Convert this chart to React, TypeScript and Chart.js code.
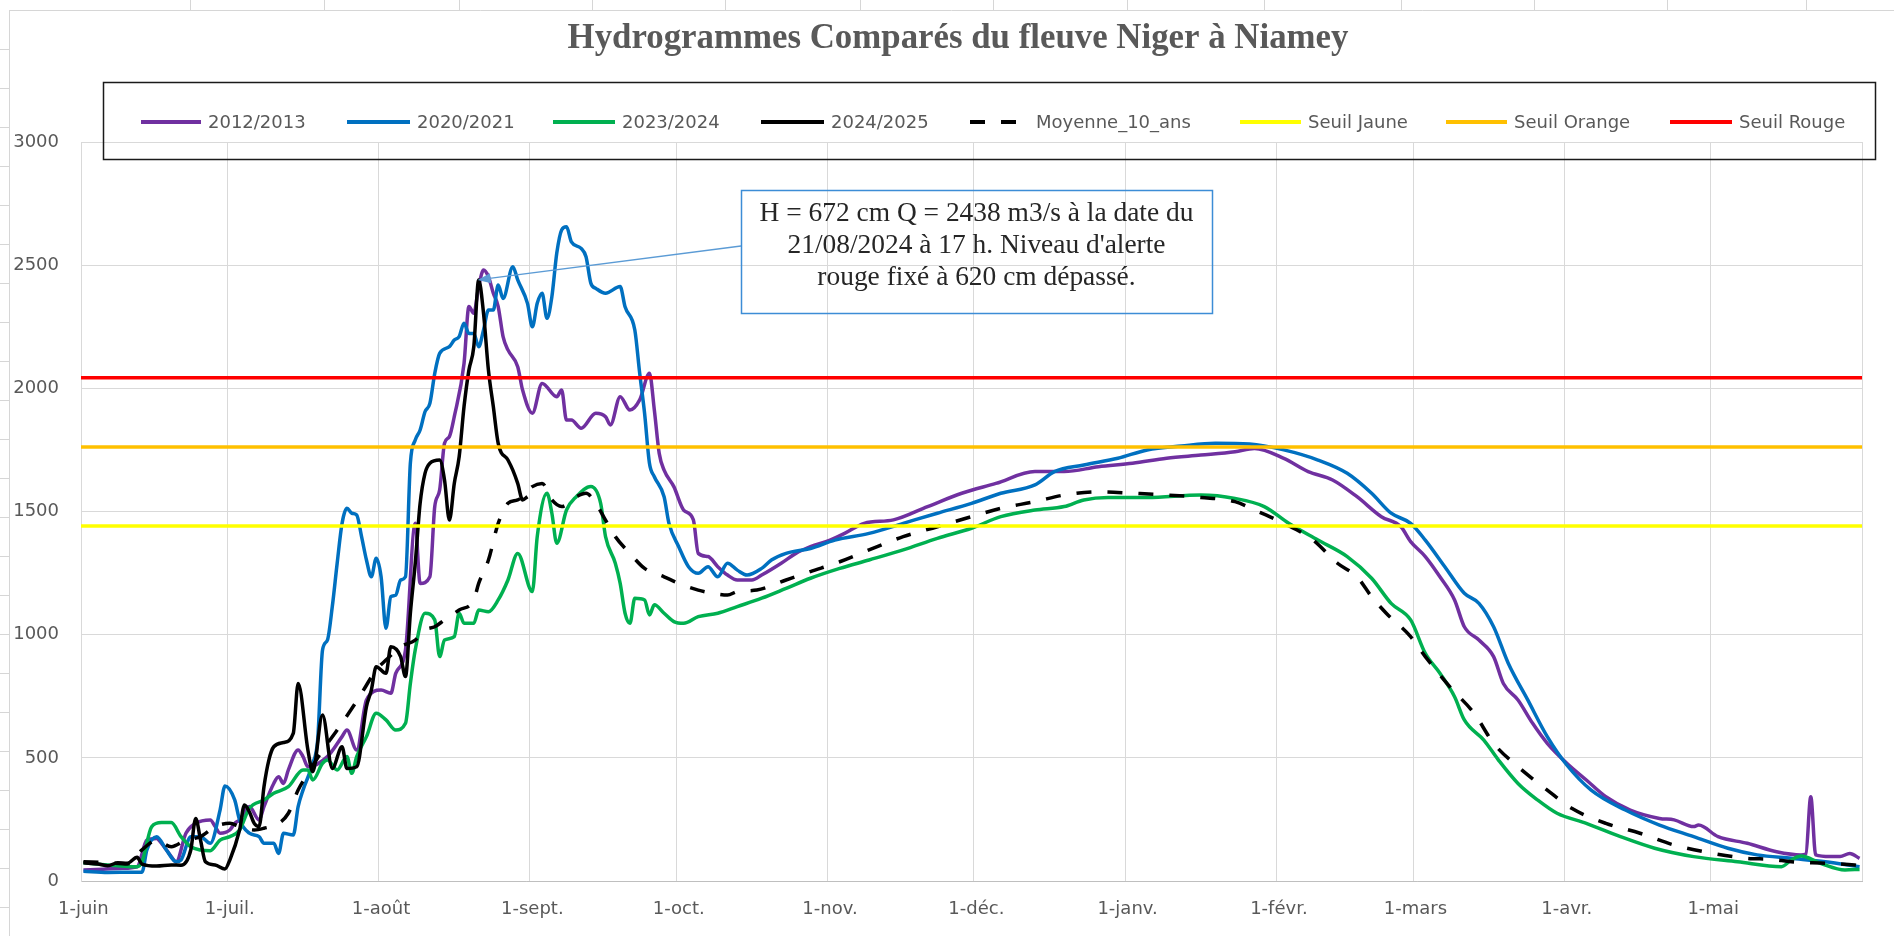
import React, { useEffect, useRef } from 'react';
import { Chart, registerables } from 'chart.js';

Chart.register(...registerables);

// ---- Axis categories (day index from 1 June) ----
const monthStarts = [0, 30, 61, 92, 122, 153, 183, 214, 245, 273, 304, 334];
const monthLabels = ['1-juin', '1-juil.', '1-août', '1-sept.', '1-oct.', '1-nov.', '1-déc.', '1-janv.', '1-févr.', '1-mars', '1-avr.', '1-mai'];
const yTickStep = 500;
const yMax = 3000;

// ---- Series: [day index, discharge m3/s] ----
const series2012: [number, number][] = [
  [0, 45], [4, 48], [8, 52], [11, 58], [13, 166], [15, 173], [16, 153], [18, 99], [19, 78], [21, 194], [23, 234], [26, 248], [27, 221], [28, 194], [30, 207], [31, 234], [32, 248], [34, 302], [36, 248], [37, 302], [39, 396], [40, 423], [41, 396], [42, 451], [44, 532], [45, 505], [46, 464], [50, 505], [53, 586], [54, 613], [56, 532], [58, 735], [61, 775], [63, 762], [64, 843], [66, 938], [68, 1452], [69, 1208], [71, 1235], [72, 1520], [73, 1587], [74, 1777], [75, 1804], [76, 1885], [78, 2101], [79, 2332], [80, 2305], [81, 2413], [82, 2480], [83, 2453], [84, 2386], [85, 2332], [86, 2210], [87, 2156], [89, 2088], [90, 1993], [92, 1899], [94, 2020], [97, 1966], [98, 1993], [99, 1871], [100, 1871], [102, 1838], [105, 1899], [107, 1885], [108, 1851], [110, 1966], [112, 1912], [114, 1953], [116, 2061], [117, 1912], [118, 1736], [119, 1668], [121, 1601], [123, 1506], [125, 1466], [126, 1330], [128, 1317], [130, 1276], [132, 1242], [134, 1222], [137, 1222], [139, 1242], [143, 1290], [146, 1330], [149, 1357], [153, 1384], [156, 1411], [160, 1452], [166, 1466], [173, 1520], [180, 1574], [187, 1614], [195, 1662], [201, 1662], [208, 1682], [215, 1696], [222, 1716], [229, 1729], [236, 1743], [240, 1756], [246, 1716], [251, 1662], [256, 1628], [261, 1560], [266, 1479], [270, 1438], [272, 1378], [275, 1317], [278, 1235], [281, 1141], [283, 1032], [286, 978], [289, 911], [291, 802], [294, 735], [297, 640], [300, 559], [304, 478], [308, 410], [312, 342], [317, 288], [323, 254], [326, 248], [330, 221], [331, 227], [335, 180], [341, 153], [347, 119], [352, 106], [353, 110], [354, 342], [355, 106], [358, 99], [360, 99], [362, 112], [364, 92],
];

const series2020: [number, number][] = [
  [0, 40], [5, 35], [10, 36], [12, 36], [13, 126], [15, 180], [17, 126], [19, 78], [20, 85], [22, 180], [24, 180], [26, 153], [28, 288], [29, 386], [31, 329], [32, 248], [34, 194], [36, 180], [37, 153], [39, 153], [40, 112], [41, 194], [43, 187], [44, 302], [45, 369], [47, 478], [48, 572], [49, 938], [50, 978], [51, 1114], [52, 1290], [53, 1452], [54, 1513], [55, 1493], [56, 1486], [57, 1398], [58, 1303], [59, 1235], [60, 1310], [61, 1235], [62, 1026], [63, 1154], [64, 1160], [65, 1222], [66, 1235], [67, 1696], [68, 1790], [69, 1831], [70, 1905], [71, 1939], [72, 2061], [73, 2142], [75, 2169], [76, 2196], [77, 2210], [78, 2264], [79, 2223], [80, 2223], [81, 2169], [82, 2237], [83, 2318], [84, 2318], [85, 2419], [86, 2365], [88, 2494], [89, 2440], [91, 2345], [92, 2250], [93, 2345], [94, 2386], [95, 2284], [96, 2372], [97, 2548], [98, 2643], [99, 2656], [100, 2595], [102, 2568], [103, 2534], [104, 2426], [105, 2406], [107, 2386], [110, 2413], [111, 2331], [113, 2237], [114, 2061], [115, 1899], [116, 1696], [117, 1641], [119, 1560], [120, 1452], [122, 1357], [124, 1276], [126, 1249], [128, 1276], [130, 1235], [132, 1290], [134, 1262], [136, 1242], [139, 1269], [141, 1303], [144, 1330], [149, 1350], [154, 1384], [161, 1411], [168, 1452], [175, 1493], [182, 1533], [188, 1574], [195, 1608], [199, 1662], [205, 1689], [212, 1716], [218, 1750], [225, 1766], [232, 1777], [239, 1774], [246, 1750], [253, 1709], [259, 1655], [264, 1574], [268, 1493], [272, 1452], [275, 1384], [279, 1276], [283, 1168], [286, 1127], [289, 1032], [292, 884], [296, 735], [300, 586], [304, 471], [309, 369], [316, 288], [323, 227], [330, 180], [337, 133], [343, 106], [350, 92], [357, 78], [364, 58],
];

const series2023: [number, number][] = [
  [0, 74], [5, 65], [11, 58], [12, 78], [14, 221], [16, 237], [18, 237], [20, 180], [22, 139], [24, 126], [26, 123], [28, 166], [30, 180], [32, 207], [34, 295], [37, 329], [39, 356], [42, 383], [45, 451], [46, 451], [47, 410], [49, 478], [50, 491], [52, 451], [54, 505], [55, 437], [56, 505], [58, 586], [60, 681], [62, 654], [64, 613], [66, 640], [67, 802], [68, 938], [70, 1087], [72, 1060], [73, 911], [74, 978], [76, 992], [77, 1087], [78, 1046], [80, 1046], [81, 1100], [83, 1093], [85, 1141], [87, 1222], [89, 1330], [92, 1175], [93, 1398], [95, 1574], [96, 1493], [97, 1371], [99, 1506], [101, 1560], [104, 1601], [106, 1533], [107, 1398], [109, 1290], [110, 1208], [111, 1087], [112, 1046], [113, 1148], [115, 1141], [116, 1080], [117, 1121], [119, 1087], [121, 1053], [123, 1046], [126, 1073], [130, 1087], [134, 1114], [139, 1148], [144, 1188], [149, 1229], [155, 1269], [161, 1303], [168, 1344], [175, 1391], [182, 1432], [188, 1479], [195, 1506], [201, 1520], [205, 1547], [210, 1557], [218, 1557], [229, 1567], [236, 1553], [242, 1520], [247, 1452], [253, 1384], [259, 1317], [264, 1229], [268, 1127], [272, 1060], [275, 924], [278, 843], [281, 748], [283, 654], [287, 572], [290, 491], [294, 396], [298, 329], [302, 275], [308, 234], [315, 180], [322, 133], [330, 99], [339, 78], [348, 58], [350, 85], [352, 101], [356, 72], [361, 45], [364, 47],
];

const series2024: [number, number][] = [
  [0, 74], [3, 69], [5, 62], [7, 74], [9, 72], [11, 96], [12, 69], [15, 61], [18, 65], [20, 64], [22, 126], [23, 254], [24, 166], [25, 78], [27, 65], [29, 49], [30, 85], [32, 207], [33, 309], [34, 281], [35, 234], [36, 221], [37, 383], [38, 491], [39, 545], [41, 562], [43, 599], [44, 802], [46, 532], [47, 444], [49, 674], [51, 457], [53, 545], [54, 457], [56, 464], [58, 708], [59, 775], [60, 870], [62, 843], [63, 951], [65, 911], [66, 830], [67, 1087], [68, 1290], [69, 1533], [70, 1655], [71, 1696], [73, 1709], [74, 1628], [75, 1465], [76, 1614], [77, 1722], [78, 1926], [79, 2074], [80, 2169], [81, 2440], [82, 2304], [83, 2074], [84, 1926], [85, 1777], [87, 1709], [88, 1668], [89, 1614], [90, 1547], [91, 1560],
];

const seriesMoyenne: [number, number][] = [
  [0, 78], [5, 74], [9, 69], [12, 126], [15, 166], [18, 139], [21, 166], [24, 180], [27, 221], [30, 234], [32, 221], [35, 207], [37, 214], [40, 234], [42, 275], [44, 369], [46, 437], [49, 530], [52, 613], [55, 700], [57, 762], [60, 857], [62, 897], [65, 951], [68, 978], [70, 1019], [72, 1032], [74, 1060], [77, 1100], [80, 1141], [81, 1208], [83, 1303], [85, 1452], [87, 1533], [89, 1547], [90, 1560], [92, 1601], [94, 1614], [96, 1547], [98, 1520], [101, 1560], [103, 1574], [105, 1533], [107, 1465], [109, 1398], [112, 1330], [115, 1269], [119, 1235], [122, 1208], [126, 1181], [129, 1168], [132, 1161], [134, 1175], [138, 1181], [144, 1222], [149, 1256], [155, 1296], [161, 1344], [168, 1398], [175, 1438], [182, 1479], [188, 1513], [195, 1540], [201, 1567], [208, 1580], [215, 1574], [222, 1567], [229, 1557], [236, 1540], [240, 1506], [246, 1452], [252, 1384], [257, 1290], [261, 1235], [264, 1154], [267, 1087], [272, 992], [275, 911], [280, 789], [285, 681], [289, 559], [294, 464], [300, 369], [305, 295], [312, 234], [319, 194], [326, 146], [334, 112], [341, 92], [346, 88], [350, 78], [357, 72], [363, 65], [364, 61],
];

const seuilJaune = 1441;
const seuilOrange = 1762;
const seuilRouge = 2043;
const yearDays = 365;

// annotation
const annotationLines = [
  'H = 672 cm Q = 2438 m3/s à la date du',
  "21/08/2024 à 17 h. Niveau d'alerte",
  'rouge fixé à 620 cm dépassé.',
];
const annotationDay = 81;
const annotationValue = 2440;
const titleText = 'Hydrogrammes Comparés du fleuve Niger à Niamey';

const SANS = '"DejaVu Sans", sans-serif';
const SERIF = '"Liberation Serif", serif';

const toPoints = (s: [number, number][]) => s.map(([d, v]) => ({ x: d + 0.5, y: v }));
const flat = (v: number) => [{ x: 0, y: v }, { x: yearDays, y: v }];

const decorPlugin = {
  id: 'decor',
  beforeDraw(chart: any) {
    const ctx: CanvasRenderingContext2D = chart.ctx;
    ctx.save();
    ctx.strokeStyle = '#D6D6D6';
    ctx.lineWidth = 1;
    ctx.beginPath();
    ctx.moveTo(9, 10.5);
    ctx.lineTo(1894, 10.5);
    ctx.moveTo(9.5, 10);
    ctx.lineTo(9.5, 936);
    const cols = [190, 324, 459, 592, 725, 860, 993, 1127, 1264, 1401, 1534, 1667, 1806];
    cols.forEach((x) => { ctx.moveTo(x + 0.5, 0); ctx.lineTo(x + 0.5, 10); });
    for (let y = 49; y < 936; y += 39) { ctx.moveTo(0, y + 0.5); ctx.lineTo(9, y + 0.5); }
    ctx.stroke();
    ctx.restore();
  },
  afterDraw(chart: any) {
    const ctx: CanvasRenderingContext2D = chart.ctx;
    const xs = chart.scales.x;
    const ys = chart.scales.y;
    ctx.save();

    // Title
    ctx.font = `bold 100px ${SERIF}`;
    const tw = ctx.measureText(titleText).width;
    const tSize = Math.max(26, Math.min(40, (100 * 781) / tw));
    ctx.font = `bold ${tSize}px ${SERIF}`;
    ctx.fillStyle = '#595959';
    ctx.textAlign = 'center';
    ctx.textBaseline = 'middle';
    ctx.fillText(titleText, 958, 39);

    // Legend box
    ctx.strokeStyle = '#1a1a1a';
    ctx.lineWidth = 1.5;
    ctx.strokeRect(103.5, 82.5, 1772, 77);

    const items = [
      { label: '2012/2013', x: 141, tx: 208 },
      { label: '2020/2021', x: 347, tx: 417 },
      { label: '2023/2024', x: 553, tx: 622 },
      { label: '2024/2025', x: 761, tx: 831 },
      { label: 'Moyenne_10_ans', x: 970, tx: 1036 },
      { label: 'Seuil Jaune', x: 1240, tx: 1308 },
      { label: 'Seuil Orange', x: 1446, tx: 1514 },
      { label: 'Seuil Rouge', x: 1670, tx: 1739 },
    ];
    const ly = 122;
    ctx.font = `18px ${SANS}`;
    ctx.textAlign = 'left';
    ctx.textBaseline = 'middle';
    items.forEach((it) => {
      const ds = chart.data.datasets.find((d: any) => d.label === it.label);
      if (!ds) return;
      ctx.save();
      ctx.strokeStyle = ds.borderColor;
      ctx.lineWidth = 4;
      ctx.lineCap = 'butt';
      ctx.setLineDash(ds.borderDash || []);
      ctx.beginPath();
      ctx.moveTo(it.x, ly);
      ctx.lineTo(it.tx - 7, ly);
      ctx.stroke();
      ctx.restore();
      ctx.fillStyle = '#595959';
      ctx.fillText(it.label, it.tx, ly + 1);
    });

    // Annotation arrow
    const tipX = xs.getPixelForValue(annotationDay + 0.5) - 1;
    const tipY = ys.getPixelForValue(annotationValue);
    const boxL = 741, boxT = 190, boxR = 1212, boxB = 313;
    const sx = boxL, sy = 246;
    const ang = Math.atan2(tipY - sy, tipX - sx);
    ctx.strokeStyle = '#5B9BD5';
    ctx.fillStyle = '#5B9BD5';
    ctx.lineWidth = 1.3;
    ctx.beginPath();
    ctx.moveTo(sx, sy);
    ctx.lineTo(tipX - Math.cos(ang) * 10, tipY - Math.sin(ang) * 10);
    ctx.stroke();
    ctx.beginPath();
    ctx.moveTo(tipX, tipY);
    ctx.lineTo(tipX - Math.cos(ang) * 13 + Math.sin(ang) * 5, tipY - Math.sin(ang) * 13 - Math.cos(ang) * 5);
    ctx.lineTo(tipX - Math.cos(ang) * 13 - Math.sin(ang) * 5, tipY - Math.sin(ang) * 13 + Math.cos(ang) * 5);
    ctx.closePath();
    ctx.fill();

    // Annotation box
    ctx.strokeStyle = '#3C8DD6';
    ctx.lineWidth = 1.5;
    ctx.strokeRect(boxL + 0.5, boxT + 0.5, boxR - boxL, boxB - boxT);
    ctx.font = `100px ${SERIF}`;
    const aw = ctx.measureText(annotationLines[0]).width;
    const aSize = Math.max(20, Math.min(30, (100 * 434) / aw));
    ctx.font = `${aSize}px ${SERIF}`;
    ctx.fillStyle = '#262626';
    ctx.textAlign = 'center';
    ctx.textBaseline = 'middle';
    annotationLines.forEach((t, i) => ctx.fillText(t, (boxL + boxR) / 2, 214 + i * 32));

    ctx.restore();
  },
};

export default function App() {
  const ref = useRef<HTMLCanvasElement | null>(null);

  useEffect(() => {
    document.body.style.margin = '0';
    const canvas = ref.current;
    if (!canvas) return;
    const lineDs = (label: string, data: any, color: string, order: number, dash?: number[]) => ({
      label,
      data,
      borderColor: color,
      backgroundColor: color,
      borderWidth: 3.5,
      borderDash: dash || [],
      pointRadius: 0,
      pointHoverRadius: 0,
      fill: false,
      cubicInterpolationMode: 'monotone' as const,
      order,
    });
    const chart = new Chart(canvas, {
      type: 'line',
      data: {
        datasets: [
          lineDs('2012/2013', toPoints(series2012), '#7030A0', 8),
          lineDs('2020/2021', toPoints(series2020), '#0070C0', 7),
          lineDs('2023/2024', toPoints(series2023), '#00B050', 6),
          lineDs('2024/2025', toPoints(series2024), '#000000', 5),
          lineDs('Moyenne_10_ans', toPoints(seriesMoyenne), '#000000', 4, [15, 16]),
          lineDs('Seuil Jaune', flat(seuilJaune), '#FFFF00', 3),
          lineDs('Seuil Orange', flat(seuilOrange), '#FFC000', 2),
          lineDs('Seuil Rouge', flat(seuilRouge), '#FF0000', 1),
        ],
      },
      options: {
        responsive: false,
        animation: false,
        devicePixelRatio: 1,
        events: [],
        layout: { padding: { top: 142, right: 32, bottom: 0, left: 0 } },
        plugins: {
          legend: { display: false },
          title: { display: false },
          tooltip: { enabled: false },
        },
        scales: {
          x: {
            type: 'linear',
            min: 0,
            max: yearDays,
            afterBuildTicks: (s: any) => {
              s.ticks = [...monthStarts, yearDays].map((v) => ({ value: v }));
            },
            afterFit: (s: any) => { s.height = 55; },
            grid: { color: '#D9D9D9', lineWidth: 1, drawTicks: false },
            border: { color: '#BFBFBF', width: 1 },
            ticks: {
              autoSkip: false,
              maxRotation: 0,
              minRotation: 0,
              padding: 18,
              labelOffset: 2.4,
              color: '#595959',
              font: { family: SANS, size: 18 },
              callback: (_v: any, i: number) => monthLabels[i] ?? '',
            },
          },
          y: {
            min: 0,
            max: yMax,
            afterFit: (s: any) => { s.width = 81; },
            grid: { color: '#D9D9D9', lineWidth: 1, drawTicks: false },
            border: { color: '#D9D9D9', width: 1 },
            ticks: {
              stepSize: yTickStep,
              padding: 22,
              color: '#595959',
              font: { family: SANS, size: 18 },
              callback: (v: any) => String(v),
            },
          },
        },
      },
      plugins: [decorPlugin],
    });
    return () => chart.destroy();
  }, []);

  return (
    <div style={{ width: 1894, height: 936, background: '#fff' }}>
      <canvas ref={ref} width={1894} height={936} style={{ display: 'block', width: 1894, height: 936 }} />
    </div>
  );
}
